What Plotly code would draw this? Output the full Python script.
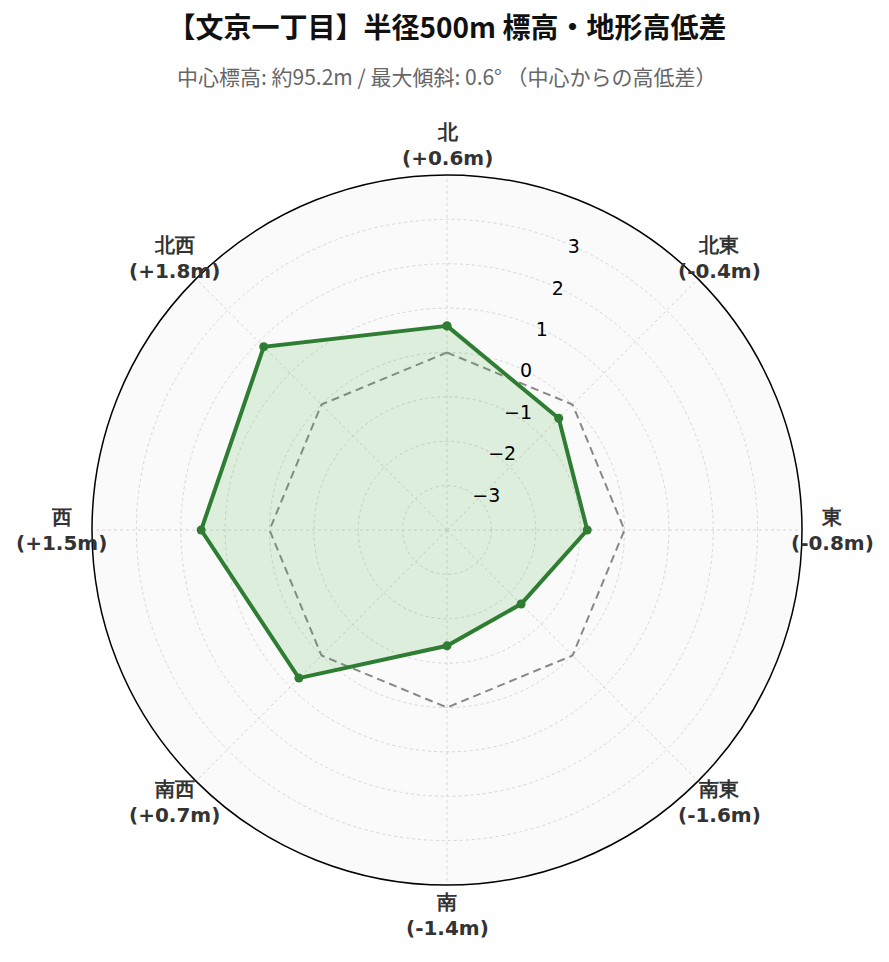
import math
import plotly.graph_objects as go

# 方位と中心からの高低差 (m)
directions = ["北", "北東", "東", "南東", "南", "南西", "西", "北西"]
elev_diff = [0.6, -0.44, -0.84, -1.64, -1.39, 0.72, 1.54, 1.84]
baseline = [0, 0, 0, 0, 0, 0, 0, 0]
radial_ticks = [-3, -2, -1, 0, 1, 2, 3]

title_text = "【文京一丁目】半径500m 標高・地形高低差"
subtitle_text = "中心標高: 約95.2m / 最大傾斜: 0.6° （中心からの高低差）"

labels = [f"<b>{d}<br>({v:+.1f}m)</b>" for d, v in zip(directions, elev_diff)]

W, H = 873, 946
ML, MR, MT, MB = 84, 79, 167, 69
label_dist = 0.5 * 385 / 355  # 外周円の少し外 (paper単位)

fig = go.Figure()

# 基準線 (0m)
fig.add_trace(go.Scatterpolar(
    r=baseline + baseline[:1],
    theta=directions + directions[:1],
    mode="lines",
    line=dict(color="#888888", width=2, dash="8px,5px"),
    hoverinfo="skip",
    showlegend=False,
))

fig.add_trace(go.Scatterpolar(
    r=elev_diff + elev_diff[:1],
    theta=directions + directions[:1],
    mode="lines+markers",
    fill="toself",
    fillcolor="rgba(76,175,80,0.17)",
    line=dict(color="#2e7d32", width=4),
    marker=dict(size=9, color="#2e7d32"),
    showlegend=False,
))

# 方位ラベル (北から時計回り)
annotations = []
for i, lab in enumerate(labels):
    ang = math.radians(90 - 360 / len(labels) * i)
    annotations.append(dict(
        text=lab,
        x=0.5 + label_dist * math.cos(ang), xref="paper", xanchor="center",
        y=0.5 + label_dist * math.sin(ang), yref="paper", yanchor="middle",
        showarrow=False,
        font=dict(family="DejaVu Sans", size=20, color="#333"),
    ))

annotations.append(dict(
    text=subtitle_text,
    x=0.5, xref="paper", xanchor="center",
    y=1 + (MT - 68) / (H - MT - MB), yref="paper", yanchor="middle",
    showarrow=False,
    font=dict(family="Noto Sans CJK JP", size=21, color="#666"),
))

fig.update_layout(
    width=W,
    height=H,
    paper_bgcolor="white",
    font=dict(family="DejaVu Sans", size=18, color="#333"),
    title=dict(
        text=f"<b>{title_text}</b>",
        x=(447 - 8) / W, xanchor="center",
        y=1 - 20 / H, yanchor="middle",
        font=dict(family="Noto Sans CJK JP", size=28, color="#111"),
    ),
    annotations=annotations,
    margin=dict(l=ML, r=MR, t=MT, b=MB),
    polar=dict(
        bgcolor="#fafafa",
        angularaxis=dict(
            rotation=90,
            direction="clockwise",
            showline=True,
            linecolor="black",
            linewidth=1.5,
            gridcolor="#d6d6d6",
            griddash="dot",
            ticks="",
            showticklabels=False,
        ),
        radialaxis=dict(
            range=[-4, 4],
            tickvals=radial_ticks,
            angle=69,
            tickangle=69,
            showline=False,
            ticks="",
            gridcolor="#d6d6d6",
            griddash="dot",
            tickfont=dict(family="DejaVu Sans", size=19, color="black"),
        ),
    ),
)

fig.write_html("out.html")
